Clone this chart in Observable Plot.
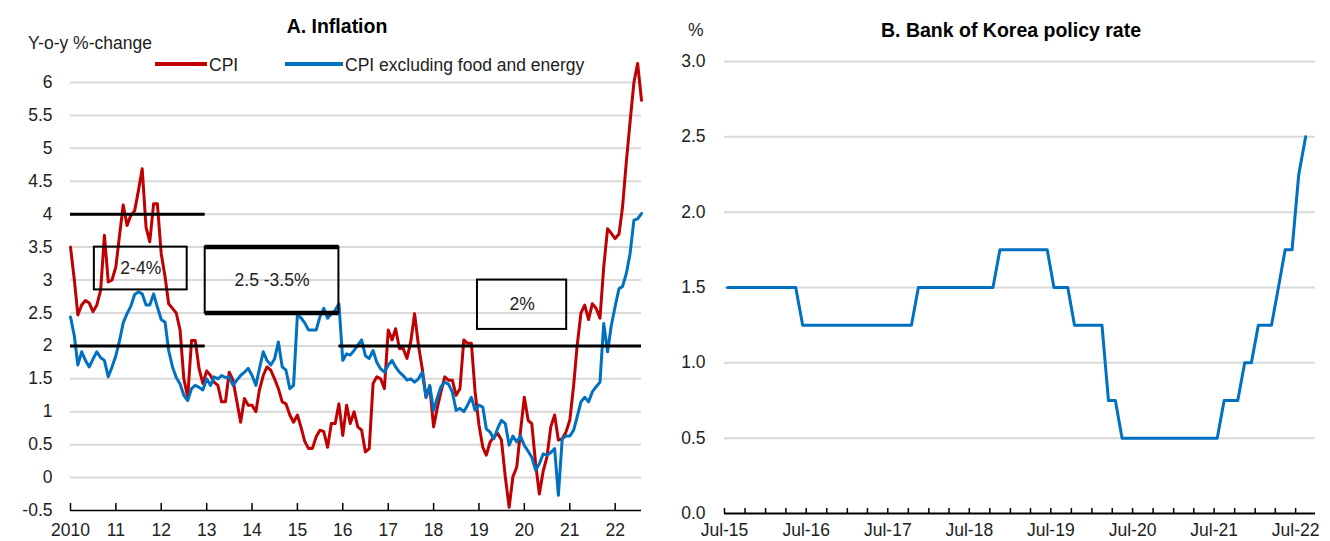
<!DOCTYPE html>
<html>
<head>
<meta charset="utf-8">
<script src="https://cdn.jsdelivr.net/npm/d3@7"></script>
<script src="https://cdn.jsdelivr.net/npm/@observablehq/plot@0.6"></script>
<style>
  html, body { margin: 0; padding: 0; background: #fff; }
  #chart { position: relative; width: 1330px; height: 541px; overflow: hidden;
           font-family: "Liberation Sans", Arial, sans-serif; color: #222; }
  .abs { position: absolute; white-space: nowrap; line-height: 1; }
  .title { font-weight: bold; font-size: 19.5px; color: #000; transform: translateX(-50%); }
  .lbl { font-size: 17.5px; }
  .swatch { position: absolute; height: 4px; }
</style>
</head>
<body>
<div id="chart">
  <div id="panelA" class="abs" style="left:0;top:0"></div>
  <div id="panelB" class="abs" style="left:660px;top:0"></div>

  <div class="abs title" style="left:337px;top:17px">A. Inflation</div>
  <div class="abs lbl" style="left:28px;top:34.5px">Y-o-y %-change</div>
  <div class="swatch" style="left:155px;top:62px;width:52px;background:#c00000"></div>
  <div class="abs lbl" style="left:209px;top:57px">CPI</div>
  <div class="swatch" style="left:285px;top:62px;width:58px;background:#0070c0"></div>
  <div class="abs lbl" style="left:345px;top:57px">CPI excluding food and energy</div>

  <div class="abs title" style="left:1011px;top:21px">B. Bank of Korea policy rate</div>
  <div class="abs lbl" style="left:688px;top:22px">%</div>
</div>
<script>
// ---------- Panel A: inflation, monthly from Jan 2010 ----------
const inflationStart = [2010, 0];

// Headline CPI, y-o-y %
const cpi = [
  3.50, 3.00, 2.47, 2.62, 2.69, 2.65, 2.52, 2.62, 2.85, 3.68, 2.97, 3.00,
  3.20, 3.70, 4.14, 3.83, 3.98, 4.05, 4.35, 4.69, 3.80, 3.58, 4.16, 4.16,
  3.40, 3.05, 2.64, 2.57, 2.50, 2.24, 1.50, 1.22, 2.08, 2.08, 1.65, 1.43,
  1.62, 1.55, 1.45, 1.40, 1.15, 1.15, 1.60, 1.48, 1.15, 0.84, 1.20, 1.10,
  1.10, 1.00, 1.33, 1.55, 1.68, 1.63, 1.50, 1.35, 1.15, 1.12, 0.95, 0.84,
  0.95, 0.75, 0.55, 0.44, 0.44, 0.62, 0.72, 0.70, 0.46, 0.82, 0.82, 1.12,
  0.64, 1.10, 0.82, 1.00, 0.77, 0.72, 0.39, 0.44, 1.43, 1.53, 1.50, 1.35,
  2.24, 2.09, 2.26, 1.96, 1.96, 1.81, 2.06, 2.49, 2.01, 1.66, 1.22, 1.38,
  0.77, 1.07, 1.30, 1.53, 1.48, 1.48, 1.25, 1.35, 2.09, 2.04, 2.04, 1.30,
  0.80, 0.46, 0.34, 0.54, 0.62, 0.67, 0.57, 0.01, -0.45, 0.01, 0.16, 0.70,
  1.22, 0.87, 0.82, 0.21, -0.25, 0.10, 0.31, 0.77, 0.95, 0.57, 0.59, 0.69,
  0.87, 1.40, 2.00, 2.50, 2.62, 2.40, 2.64, 2.57, 2.42, 3.20, 3.78, 3.71,
  3.63, 3.70, 4.10, 4.80, 5.40, 6.00, 6.29, 5.73
];

// CPI excluding food and energy, y-o-y %
const coreCpi = [
  2.44, 2.15, 1.71, 1.91, 1.78, 1.68, 1.80, 1.91, 1.82, 1.78, 1.53, 1.68,
  1.85, 2.09, 2.35, 2.49, 2.60, 2.78, 2.82, 2.79, 2.62, 2.62, 2.79, 2.59,
  2.40, 2.36, 1.93, 1.68, 1.52, 1.42, 1.25, 1.17, 1.35, 1.40, 1.37, 1.33,
  1.50, 1.40, 1.53, 1.50, 1.55, 1.52, 1.53, 1.40, 1.48, 1.55, 1.60, 1.66,
  1.55, 1.40, 1.65, 1.91, 1.78, 1.71, 1.80, 2.06, 1.68, 1.63, 1.35, 1.40,
  2.47, 2.42, 2.35, 2.24, 2.24, 2.24, 2.44, 2.57, 2.42, 2.49, 2.54, 2.64,
  1.78, 1.88, 1.86, 1.93, 2.01, 2.09, 1.85, 1.81, 1.93, 1.75, 1.65, 1.60,
  1.71, 1.78, 1.68, 1.60, 1.55, 1.48, 1.50, 1.45, 1.50, 1.60, 1.22, 1.40,
  1.02, 1.22, 1.38, 1.45, 1.42, 1.30, 1.02, 1.05, 1.00, 1.10, 1.22, 1.02,
  1.10, 1.07, 0.74, 0.69, 0.59, 0.75, 0.87, 0.82, 0.49, 0.63, 0.54, 0.63,
  0.49, 0.40, 0.31, 0.11, 0.21, 0.36, 0.34, 0.38, 0.44, -0.27, 0.59, 0.63,
  0.63, 0.72, 0.92, 1.15, 1.22, 1.15, 1.30, 1.38, 1.45, 2.34, 1.91, 2.31,
  2.60, 2.87, 2.90, 3.10, 3.40, 3.91, 3.93, 4.01
];

const inflationTicks = [-0.5, 0, 0.5, 1, 1.5, 2, 2.5, 3, 3.5, 4, 4.5, 5, 5.5, 6];
const yearTickYears = [2010, 2011, 2012, 2013, 2014, 2015, 2016, 2017, 2018, 2019, 2020, 2021, 2022];
const yearLabels = ["2010", "11", "12", "13", "14", "15", "16", "17", "18", "19", "20", "21", "22"];

// Bank of Korea inflation-target regimes (lower and upper bounds)
const targetRegimes = [
  { from: "2010-01-01", to: "2012-12-20", low: 2,   high: 4 },
  { from: "2012-12-20", to: "2015-12-01", low: 2.5, high: 3.5 },
  { from: "2015-12-01", to: "2022-08-01", low: 2,   high: 2 }
];

// Annotation boxes naming each target
const targetBoxes = [
  { label: "2-4%",      from: "2010-07-12", to: "2012-07-28", low: 2.85, high: 3.5 },
  { label: "2.5 -3.5%", from: "2012-12-20", to: "2015-12-01", low: 2.5,  high: 3.5 },
  { label: "2%",        from: "2018-12-20", to: "2020-12-07", low: 2.25, high: 3.0 }
];

// ---------- Panel B: policy rate, monthly from Jul 2015 ----------
const rateStart = [2015, 6];
const policyRate = [
  1.50, 1.50, 1.50, 1.50, 1.50, 1.50, 1.50, 1.50, 1.50, 1.50, 1.50,
  1.25, 1.25, 1.25, 1.25, 1.25, 1.25, 1.25, 1.25, 1.25, 1.25, 1.25, 1.25, 1.25, 1.25, 1.25, 1.25, 1.25,
  1.50, 1.50, 1.50, 1.50, 1.50, 1.50, 1.50, 1.50, 1.50, 1.50, 1.50, 1.50,
  1.75, 1.75, 1.75, 1.75, 1.75, 1.75, 1.75, 1.75,
  1.50, 1.50, 1.50,
  1.25, 1.25, 1.25, 1.25, 1.25,
  0.75, 0.75,
  0.50, 0.50, 0.50, 0.50, 0.50, 0.50, 0.50, 0.50, 0.50, 0.50, 0.50, 0.50, 0.50, 0.50, 0.50,
  0.75, 0.75, 0.75,
  1.00, 1.00,
  1.25, 1.25, 1.25,
  1.50,
  1.75, 1.75,
  2.25,
  2.50
];
const rateTicks = [0, 0.5, 1, 1.5, 2, 2.5, 3];
const julyYears = [2015, 2016, 2017, 2018, 2019, 2020, 2021, 2022];
const julyLabels = ["Jul-15", "Jul-16", "Jul-17", "Jul-18", "Jul-19", "Jul-20", "Jul-21", "Jul-22"];

// ---------- shared styling ----------
const RED = "#c00000";
const BLUE = "#0070c0";
const GRID = "#d9d9d9";
const font = { fontFamily: "'Liberation Sans', Arial, sans-serif", fontSize: "17.5px", color: "#222", background: "transparent", overflow: "visible" };

const monthDate = (start, i, day = 1) => new Date(Date.UTC(start[0], start[1] + i, day));
const toRows = (values, start, day) => values.map((v, i) => ({ date: monthDate(start, i, day), value: v }));

const cpiRows = toRows(cpi, inflationStart, 1);
const coreRows = toRows(coreCpi, inflationStart, 1);
const yearTicks = yearTickYears.map(y => new Date(Date.UTC(y, 0, 1)));
const yearLabelOf = new Map(yearTicks.map((d, i) => [+d, yearLabels[i]]));

const targetLines = targetRegimes.flatMap(r => {
  const base = { from: new Date(r.from), to: new Date(r.to), band: r.high - r.low };
  return r.low === r.high ? [{ ...base, level: r.low }]
                          : [{ ...base, level: r.low }, { ...base, level: r.high }];
});
const boxes = targetBoxes.map(b => ({
  ...b, from: new Date(b.from), to: new Date(b.to),
  mid: new Date((+new Date(b.from) + +new Date(b.to)) / 2), center: (b.low + b.high) / 2
}));

const plotA = Plot.plot({
  width: 660, height: 541,
  marginLeft: 70, marginRight: 19, marginTop: 82, marginBottom: 31,
  style: font,
  x: { type: "utc", domain: [monthDate(inflationStart, 0), monthDate(inflationStart, cpi.length - 1)], axis: null },
  y: { domain: [-0.5, 6], axis: null },
  marks: [
    Plot.gridY(inflationTicks.filter(t => t > -0.5), { stroke: GRID, strokeOpacity: 1, strokeWidth: 2 }),
    Plot.axisY(inflationTicks, { tickSize: 0, tickPadding: 18, tickFormat: d => String(d), label: null }),
    Plot.line(cpiRows, { x: "date", y: "value", stroke: RED, strokeWidth: 3 }),
    Plot.line(coreRows, { x: "date", y: "value", stroke: BLUE, strokeWidth: 3 }),
    Plot.ruleY(targetLines, { y: "level", x1: "from", x2: "to", stroke: "#000",
                              strokeWidth: d => d.band === 1 ? 4.5 : 3 }),
    Plot.rect(boxes, { x1: "from", x2: "to", y1: "low", y2: "high", fill: "none", stroke: "#000", strokeWidth: 2 }),
    Plot.text(boxes, { x: "mid", y: "center", text: "label", fill: "#222", fontSize: 17.5 }),
    Plot.ruleY([-0.5], { stroke: "#000", strokeWidth: 1.5 }),
    Plot.axisX(yearTicks, { tickSize: 7, dy: -7, fill: "none", stroke: "#000", strokeWidth: 1.5 }),
    Plot.axisX(yearTicks, { tickSize: 0, tickPadding: 13, tickFormat: d => yearLabelOf.get(+d), label: null })
  ]
});
document.getElementById("panelA").append(plotA);

const rateRows = toRows(policyRate, rateStart, 15);
const quarterTicks = d3.utcMonths(monthDate(rateStart, 0), monthDate(rateStart, policyRate.length), 3);
const julyTicks = julyYears.map(y => new Date(Date.UTC(y, 6, 1)));
const julyLabelOf = new Map(julyTicks.map((d, i) => [+d, julyLabels[i]]));

const plotB = Plot.plot({
  width: 670, height: 541,
  marginLeft: 64, marginRight: 15, marginTop: 61, marginBottom: 28,
  style: font,
  x: { type: "utc", domain: [monthDate(rateStart, 0), new Date(Date.UTC(2022, 8, 28))], axis: null },
  y: { domain: [0, 3], axis: null },
  marks: [
    Plot.gridY(rateTicks.filter(t => t > 0), { stroke: GRID, strokeOpacity: 1, strokeWidth: 2 }),
    Plot.axisY(rateTicks, { tickSize: 0, tickPadding: 19, tickFormat: d3.format(".1f"), label: null }),
    Plot.line(rateRows, { x: "date", y: "value", stroke: BLUE, strokeWidth: 3 }),
    Plot.ruleY([0], { stroke: "#000", strokeWidth: 2 }),
    Plot.axisX(quarterTicks, { tickSize: 5, dy: -5, fill: "none", stroke: "#000", strokeWidth: 1.5 }),
    Plot.axisX(julyTicks, { tickSize: 0, tickPadding: 10, tickFormat: d => julyLabelOf.get(+d), label: null })
  ]
});
document.getElementById("panelB").append(plotB);
</script>
</body>
</html>
